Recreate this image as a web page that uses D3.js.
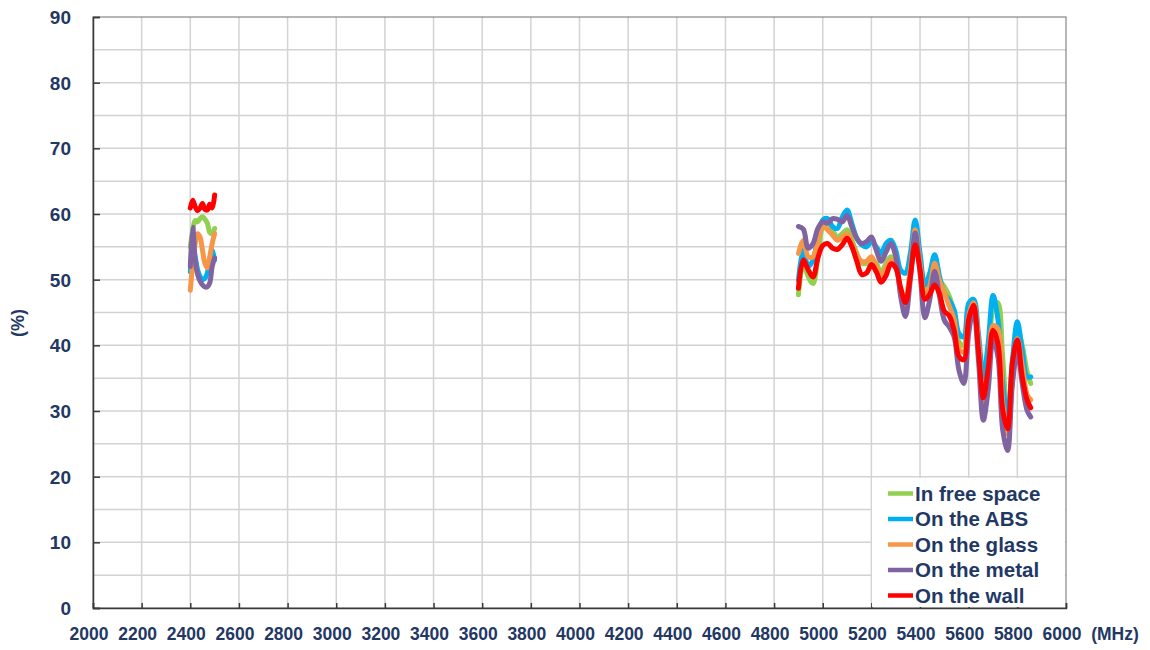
<!DOCTYPE html>
<html lang="en">
<head>
<meta charset="utf-8">
<title>Efficiency vs frequency</title>
<script src="https://d3js.org/d3.v7.min.js"></script>
<style>
  body { margin: 0; background: #fff; }
  text { font-family: "Liberation Sans", Arial, sans-serif; font-weight: bold; fill: #1f3864; }
</style>
</head>
<body>
<script>
// frequencies (MHz)
const freq24 = [2400, 2410, 2420, 2430, 2440, 2450, 2460, 2470, 2480, 2490, 2500];
const freq5 = [4900, 4920, 4940, 4960, 4980, 5000, 5020, 5040, 5060, 5080,
               5100, 5120, 5140, 5160, 5180, 5200, 5220, 5240, 5260, 5280,
               5300, 5320, 5340, 5360, 5380, 5400, 5420, 5440, 5460, 5480,
               5500, 5520, 5540, 5560, 5580, 5600, 5620, 5640, 5660, 5680,
               5700, 5720, 5740, 5760, 5780, 5800, 5820, 5840, 5855];

const seriesNames = ["In free space", "On the ABS", "On the glass", "On the metal", "On the wall"];
const seriesColors = ["#92d050", "#00b0f0", "#f79646", "#8064a2", "#ff0000"];

// efficiency (%), 2.4 GHz band
const free24  = [55.0, 57.5, 59.0, 58.8, 59.3, 59.6, 59.2, 58.6, 57.2, 57.0, 57.8];
const abs24   = [51.2, 55.0, 53.5, 51.5, 50.5, 50.0, 50.2, 51.0, 53.0, 54.5, 53.0];
const glass24 = [48.4, 52.5, 55.5, 57.0, 56.5, 54.5, 52.5, 51.8, 53.5, 55.5, 57.0];
const metal24 = [52.0, 58.0, 53.0, 50.8, 49.8, 49.2, 48.9, 48.9, 49.5, 52.0, 53.3];
const wall24  = [60.9, 62.1, 61.1, 60.5, 60.9, 61.6, 60.7, 60.6, 61.5, 60.9, 62.9];

// efficiency (%), 5 GHz band
const free5  = [47.7, 52.5, 50.5, 49.4, 53.5, 58.0, 58.5, 57.5, 56.5, 57.0,
                57.6, 56.0, 54.0, 52.5, 52.5, 53.0, 52.5, 51.0, 52.5, 53.5,
                52.5, 48.5, 47.0, 51.5, 57.5, 53.0, 48.5, 50.0, 51.5, 50.0,
                48.9, 47.5, 45.0, 40.5, 40.0, 45.5, 46.0, 40.5, 33.0, 37.0,
                45.5, 46.5, 38.0, 29.0, 35.0, 42.5, 40.0, 36.0, 34.2];
const abs5   = [49.9, 54.5, 52.0, 53.0, 56.5, 59.1, 59.3, 58.1, 57.8, 59.5,
                60.6, 58.5, 56.3, 55.3, 55.0, 55.8, 55.0, 54.0, 55.5, 56.0,
                54.5, 51.5, 51.0, 54.0, 59.1, 54.0, 49.2, 51.0, 53.8, 50.5,
                47.8, 46.9, 45.4, 41.8, 41.3, 46.4, 47.0, 41.8, 35.2, 40.3,
                47.6, 44.0, 34.2, 29.0, 37.8, 43.6, 39.3, 35.2, 35.2];
const glass5 = [54.0, 56.0, 53.5, 53.5, 56.0, 58.1, 57.6, 56.8, 56.0, 56.5,
                57.0, 55.5, 53.8, 52.8, 52.8, 53.5, 52.0, 50.5, 51.8, 53.0,
                52.0, 48.5, 46.9, 51.5, 57.6, 52.5, 47.5, 49.0, 52.5, 49.8,
                48.0, 46.0, 44.0, 39.5, 39.0, 44.5, 46.5, 40.5, 31.0, 35.0,
                43.0, 42.5, 31.0, 26.5, 35.0, 41.0, 37.0, 32.5, 31.7];
const metal5 = [58.1, 57.7, 54.8, 55.5, 57.8, 58.8, 58.6, 59.3, 59.2, 58.8,
                59.8, 58.0, 56.3, 55.5, 55.8, 56.5, 54.5, 52.8, 54.2, 55.5,
                53.5, 47.5, 44.4, 50.0, 57.1, 51.0, 44.2, 47.0, 51.3, 47.5,
                43.8, 42.8, 41.3, 36.2, 34.2, 41.8, 45.6, 37.8, 28.6, 33.2,
                40.8, 38.3, 27.1, 24.0, 34.2, 39.0, 34.2, 30.1, 29.1];
const wall5  = [48.7, 53.0, 51.5, 50.4, 53.3, 55.2, 55.5, 54.8, 54.6, 55.3,
                56.3, 55.0, 52.8, 50.8, 51.0, 52.3, 51.2, 49.6, 50.6, 52.4,
                51.8, 48.8, 46.5, 50.5, 55.3, 51.5, 47.0, 47.8, 49.2, 47.8,
                45.2, 44.5, 42.3, 38.3, 37.8, 44.0, 46.1, 39.3, 32.0, 36.5,
                42.3, 40.3, 30.1, 27.3, 37.5, 40.8, 35.2, 31.7, 30.5];

const xTicks = [2000, 2200, 2400, 2600, 2800, 3000, 3200, 3400, 3600, 3800, 4000,
                4200, 4400, 4600, 4800, 5000, 5200, 5400, 5600, 5800, 6000];
const yTicks = [0, 10, 20, 30, 40, 50, 60, 70, 80, 90];
const yMinor = [5, 15, 25, 35, 45, 55, 65, 75, 85];

const band24 = [free24, abs24, glass24, metal24, wall24];
const band5 = [free5, abs5, glass5, metal5, wall5];

const width = 1150, height = 650;
const margin = { top: 17, right: 84, bottom: 42, left: 93 };

const x = d3.scaleLinear().domain([2000, 6000]).range([margin.left, width - margin.right]);
const y = d3.scaleLinear().domain([0, 90]).range([height - margin.bottom, margin.top]);

const svg = d3.select("body").append("svg")
    .attr("width", width)
    .attr("height", height);

// grid
svg.append("g").selectAll("line.v")
    .data(xTicks.slice(1, -1))
    .enter().append("line")
    .attr("x1", d => x(d)).attr("x2", d => x(d))
    .attr("y1", y(0)).attr("y2", y(90))
    .attr("stroke", "#d3d3d3").attr("stroke-width", 1.5);

svg.append("g").selectAll("line.h")
    .data(yTicks.slice(1, -1).concat(yMinor))
    .enter().append("line")
    .attr("x1", x(2000)).attr("x2", x(6000))
    .attr("y1", d => y(d)).attr("y2", d => y(d))
    .attr("stroke", "#d3d3d3").attr("stroke-width", 1.5);

// frame
svg.append("rect")
    .attr("x", x(2000)).attr("y", y(90))
    .attr("width", x(6000) - x(2000)).attr("height", y(0) - y(90))
    .attr("fill", "none").attr("stroke", "#6e6e6e").attr("stroke-width", 1);

// axes
const xAxis = d3.axisBottom(x).tickValues(xTicks).tickSize(-5).tickFormat("");
const yAxis = d3.axisLeft(y).tickValues(yTicks).tickSize(-7).tickFormat("");

svg.append("g")
    .attr("transform", `translate(0,${y(0)})`)
    .call(xAxis)
    .call(g => g.selectAll("line, path").attr("stroke", "#3a3a3a").attr("stroke-width", 1.5));

svg.append("g")
    .attr("transform", `translate(${x(2000)},0)`)
    .call(yAxis)
    .call(g => g.selectAll("line, path").attr("stroke", "#3a3a3a").attr("stroke-width", 1.5));

// tick labels
svg.append("g").selectAll("text")
    .data(xTicks)
    .enter().append("text")
    .attr("x", d => x(d) - 4)
    .attr("y", 640)
    .attr("text-anchor", "middle")
    .style("font-size", "17.5px")
    .text(d => d);

svg.append("text")
    .attr("x", 1115).attr("y", 640)
    .attr("text-anchor", "middle")
    .style("font-size", "17.5px")
    .text("(MHz)");

svg.append("g").selectAll("text")
    .data(yTicks)
    .enter().append("text")
    .attr("x", 71)
    .attr("y", d => y(d))
    .attr("dy", "0.36em")
    .attr("text-anchor", "end")
    .style("font-size", "19px")
    .text(d => d);

svg.append("text")
    .attr("transform", "translate(24,323) rotate(-90)")
    .attr("text-anchor", "middle")
    .style("font-size", "18px")
    .text("(%)");

// lines
const line = d3.line()
    .x(d => x(d[0]))
    .y(d => y(d[1]))
    .curve(d3.curveCatmullRom.alpha(0.5));

seriesNames.forEach((name, i) => {
    [[freq24, band24[i]], [freq5, band5[i]]].forEach(([fs, vs]) => {
        svg.append("path")
            .datum(fs.map((f, j) => [f, vs[j]]))
            .attr("d", line)
            .attr("fill", "none")
            .attr("stroke", seriesColors[i])
            .attr("stroke-width", 5)
            .attr("stroke-linejoin", "round")
            .attr("stroke-linecap", "round");
    });
});

// legend
const legend = svg.append("g");
legend.append("rect")
    .attr("x", 872).attr("y", 478)
    .attr("width", x(6000) - 872 - 1).attr("height", y(0) - 478 - 1)
    .attr("fill", "#fff");

seriesNames.forEach((name, i) => {
    const ly = 493.5 + i * 25.5;
    legend.append("line")
        .attr("x1", 888).attr("x2", 913)
        .attr("y1", ly).attr("y2", ly)
        .attr("stroke", seriesColors[i]).attr("stroke-width", 4.5);
    legend.append("text")
        .attr("x", 915).attr("y", ly)
        .attr("dy", "0.36em")
        .style("font-size", "20.5px")
        .text(name);
});
</script>
</body>
</html>
